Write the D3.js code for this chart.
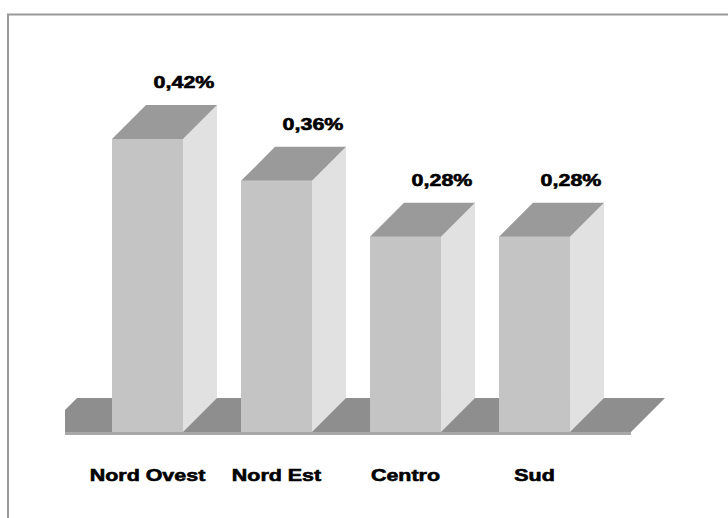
<!DOCTYPE html>
<html>
<head>
<meta charset="utf-8">
<script src="https://cdn.jsdelivr.net/npm/d3@7"></script>
<style>
  body { margin: 0; background: #fff; }
  svg { display: block; }
</style>
</head>
<body>
<svg id="chart"></svg>
<script>
// data
const regions = ["Nord Ovest", "Nord Est", "Centro", "Sud"];
const shares = [0.42, 0.36, 0.28, 0.28];
const shareLabels = ["0,42%", "0,36%", "0,28%", "0,28%"];

const W = 728, H = 518;
const depth = 34;          // 3d offset of the bars / floor
const stretch = 1.3;       // text in the original is stretched horizontally

const svg = d3.select("#chart")
    .attr("width", W)
    .attr("height", H);

// frame (only top and left edge are visible)
svg.append("path")
    .attr("d", `M8,${H} L8,14.5 L${W},14.5`)
    .attr("fill", "none")
    .attr("stroke", "#9a9a9a")
    .attr("stroke-width", 2);

const x = d3.scaleBand()
    .domain(regions)
    .range([83, 599])
    .paddingInner(0.45)
    .paddingOuter(0.225);

const y = d3.scaleLinear()
    .domain([0, 0.5])
    .range([432, 432 - 0.5 * 697.6]);

const base = y(0);

// floor
const floorLeft = 65, floorRight = 631;
svg.append("path")
    .attr("d", `M${floorLeft},${base} L${floorLeft},${base - depth + 12} L${floorLeft + 12},${base - depth}
                L${floorRight + depth},${base - depth} L${floorRight},${base} Z`)
    .attr("fill", "#8e8e8e");

const bars = svg.append("g").selectAll("g")
    .data(regions.map((r, i) => ({ region: r, value: shares[i], label: shareLabels[i] })))
    .join("g");

// side face
bars.append("path")
    .attr("d", d => {
      let x1 = x(d.region) + x.bandwidth();
      let yt = y(d.value);
      return `M${x1},${base} L${x1},${yt} L${x1 + depth},${yt - depth} L${x1 + depth},${base - depth} Z`;
    })
    .attr("fill", "#e1e1e1");

// front face
bars.append("rect")
    .attr("x", d => x(d.region))
    .attr("y", d => y(d.value))
    .attr("width", x.bandwidth())
    .attr("height", d => base - y(d.value))
    .attr("fill", "#c4c4c4");

// top face
bars.append("path")
    .attr("d", d => {
      let x0 = x(d.region), x1 = x0 + x.bandwidth();
      let yt = y(d.value);
      return `M${x0},${yt} L${x0 + depth},${yt - depth} L${x1 + depth},${yt - depth} L${x1},${yt} Z`;
    })
    .attr("fill", "#9a9a9a");

// floor front edge
svg.append("rect")
    .attr("x", floorLeft)
    .attr("y", base)
    .attr("width", floorRight - floorLeft)
    .attr("height", 3)
    .attr("fill", "#a8a8a8");

// value labels
bars.append("text")
    .attr("transform", d => `translate(${x(d.region) + x.bandwidth() + 1},${y(d.value) - depth - 17}) scale(${stretch},1)`)
    .attr("text-anchor", "middle")
    .attr("font-family", "Liberation Sans, Arial, sans-serif")
    .attr("font-weight", "bold")
    .attr("font-size", 16.5)
    .attr("fill", "#000")
    .attr("stroke", "#000")
    .attr("stroke-width", 0.6)
    .text(d => d.label);

// category labels
svg.append("g").selectAll("text")
    .data(regions)
    .join("text")
    .attr("transform", d => `translate(${x(d) + x.bandwidth() / 2},481) scale(${stretch},1)`)
    .attr("text-anchor", "middle")
    .attr("font-family", "Liberation Sans, Arial, sans-serif")
    .attr("font-weight", "bold")
    .attr("font-size", 16.5)
    .attr("fill", "#000")
    .attr("stroke", "#000")
    .attr("stroke-width", 0.6)
    .text(d => d);
</script>
</body>
</html>
